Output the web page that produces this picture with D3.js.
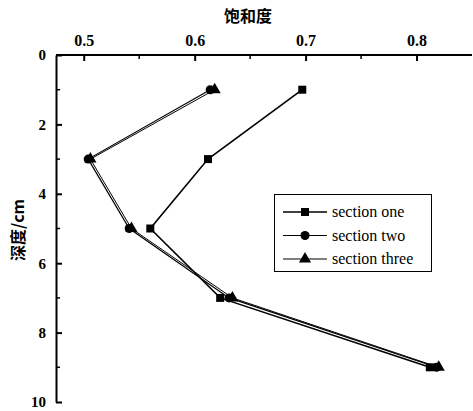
<!DOCTYPE html>
<html>
<head>
<meta charset="utf-8">
<script src="https://cdn.jsdelivr.net/npm/d3@7"></script>
<style>
  body { margin: 0; background: #fff; }
  svg { display: block; }
</style>
</head>
<body>
<svg id="chart" width="473" height="411"></svg>
<script>
// Saturation profile by depth for three sections
const depths = [1, 3, 5, 7, 9];
const sectionOne = [0.697, 0.612, 0.560, 0.623, 0.812];
const sectionTwo = [0.614, 0.504, 0.541, 0.631, 0.818];
const sectionThree = [0.618, 0.506, 0.543, 0.634, 0.820];
const seriesNames = ["section one", "section two", "section three"];
const xTicks = [0.5, 0.6, 0.7, 0.8];
const yTicks = [0, 2, 4, 6, 8, 10];

const svg = d3.select("#chart");
const margin = { left: 56, top: 55, right: 472, bottom: 402 };

const x = d3.scaleLinear().domain([0.475, 0.85]).range([margin.left, margin.right]);
const y = d3.scaleLinear().domain([0, 10]).range([margin.top, margin.bottom]);

const serif = "'Liberation Serif', 'Times New Roman', serif";

// top axis
const xAxis = d3.axisTop(x).tickValues(xTicks).tickFormat(d3.format(".1f")).tickSizeInner(-6).tickSizeOuter(0).tickPadding(9);
const gx = svg.append("g").attr("transform", `translate(0,${margin.top})`).call(xAxis);
gx.select(".domain").attr("stroke-width", 2).attr("d", `M${margin.left},0H${margin.right}`);
gx.selectAll(".tick line").attr("stroke-width", 2);
gx.selectAll("text").attr("font-family", serif).attr("font-weight", "bold").attr("font-size", 16);
// minor ticks on x
svg.append("g").selectAll("line").data([0.55, 0.65, 0.75]).join("line")
  .attr("x1", d => x(d)).attr("x2", d => x(d))
  .attr("y1", margin.top).attr("y2", margin.top + 4)
  .attr("stroke", "#000").attr("stroke-width", 1.5);

// left axis
const yAxis = d3.axisLeft(y).tickValues(yTicks).tickFormat(d3.format("d")).tickSizeInner(-6).tickSizeOuter(0).tickPadding(10);
const gy = svg.append("g").attr("transform", `translate(${margin.left},0)`).call(yAxis);
gy.select(".domain").attr("stroke-width", 2);
gy.selectAll(".tick line").attr("stroke-width", 2);
gy.selectAll("text").attr("font-family", serif).attr("font-weight", "bold").attr("font-size", 15);
svg.append("g").selectAll("line").data([1, 3, 5, 7, 9]).join("line")
  .attr("x1", margin.left).attr("x2", margin.left + 4)
  .attr("y1", d => y(d)).attr("y2", d => y(d))
  .attr("stroke", "#000").attr("stroke-width", 1.5);

// axis titles
svg.append("text").attr("x", 248).attr("y", 22).attr("text-anchor", "middle")
  .attr("font-family", "'Noto Sans CJK SC', sans-serif").attr("font-weight", "bold").attr("font-size", 16)
  .text("饱和度");
svg.append("text").attr("transform", "translate(24,230) rotate(-90)").attr("text-anchor", "middle")
  .attr("font-family", "'Noto Sans CJK SC', sans-serif").attr("font-weight", "bold").attr("font-size", 16)
  .text("深度/cm");

const series = [
  { name: seriesNames[0], values: sectionOne, symbol: d3.symbolSquare, size: 64, width: 1.6 },
  { name: seriesNames[1], values: sectionTwo, symbol: d3.symbolCircle, size: 64, width: 1.2 },
  { name: seriesNames[2], values: sectionThree, symbol: d3.symbolTriangle, size: 64, width: 1.0 }
];

const line = d3.line().x(d => x(d[0])).y(d => y(d[1]));

series.forEach(s => {
  const pts = s.values.map((v, i) => [v, depths[i]]);
  svg.append("path").datum(pts).attr("d", line).attr("fill", "none")
    .attr("stroke", "#000").attr("stroke-width", s.width);
  svg.append("g").selectAll("path").data(pts).join("path")
    .attr("transform", d => `translate(${x(d[0])},${y(d[1])})`)
    .attr("d", d3.symbol().type(s.symbol).size(s.size))
    .attr("fill", "#000");
});

// legend
const lg = svg.append("g");
lg.append("rect").attr("x", 274.5).attr("y", 194.5).attr("width", 157).attr("height", 77)
  .attr("fill", "#fff").attr("stroke", "#000").attr("stroke-width", 1);
series.forEach((s, i) => {
  const cy = 212 + i * 23.5;
  lg.append("line").attr("x1", 283).attr("x2", 327).attr("y1", cy).attr("y2", cy)
    .attr("stroke", "#000").attr("stroke-width", s.width);
  lg.append("path").attr("transform", `translate(305,${cy})`)
    .attr("d", d3.symbol().type(s.symbol).size(s.size)).attr("fill", "#000");
  lg.append("text").attr("x", 332).attr("y", cy + 5)
    .attr("font-family", serif).attr("font-size", 16).text(s.name);
});
</script>
</body>
</html>
